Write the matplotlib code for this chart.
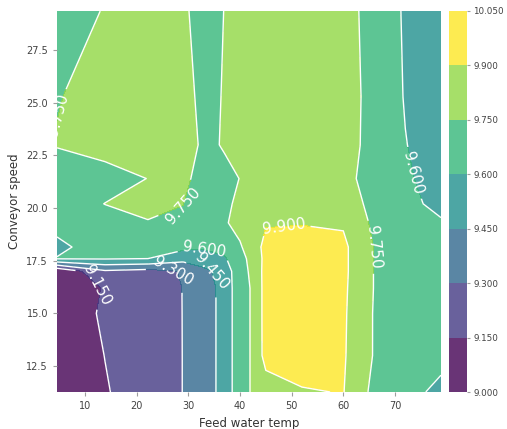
import numpy as np
import matplotlib
matplotlib.use("Agg")
import matplotlib.pyplot as plt
from matplotlib.colors import Normalize

# Grid of the two features
feed_water_temp = [4.6, 13.9, 22.2, 29.0, 33.0, 37.0, 40.0, 42.5, 45.0, 52.0, 60.0, 66.0, 72.0, 78.9]
conveyor_speed = [11.27, 13.0, 15.0, 16.2, 17.0, 17.6, 18.15, 19.3, 20.2, 21.4, 23.0, 25.3, 29.35]

# Partial dependence values: one row per conveyor speed (bottom to top),
# one column per feed water temp (left to right)
pdp_values = [
    [9.05, 9.14, 9.22, 9.302, 9.40, 9.485, 9.715, 9.76, 9.816, 9.889, 9.905, 9.71, 9.64, 9.57],
    [9.05, 9.152, 9.22, 9.302, 9.40, 9.485, 9.715, 9.76, 9.957, 9.97, 9.915, 9.74, 9.65, 9.635],
    [9.06, 9.17, 9.23, 9.302, 9.40, 9.485, 9.715, 9.76, 9.96, 10.0, 9.92, 9.74, 9.65, 9.63],
    [9.05, 9.16, 9.24, 9.302, 9.40, 9.485, 9.715, 9.76, 9.96, 10.0, 9.925, 9.745, 9.66, 9.64],
    [9.01, 9.28, 9.25, 9.31, 9.42, 9.50, 9.715, 9.77, 9.96, 10.0, 9.93, 9.745, 9.67, 9.64],
    [9.61, 9.61, 9.60, 9.50, 9.52, 9.58, 9.72, 9.78, 9.95, 10.0, 9.93, 9.745, 9.68, 9.64],
    [9.55, 9.71, 9.70, 9.64, 9.62, 9.66, 9.74, 9.80, 9.96, 9.99, 9.93, 9.745, 9.68, 9.64],
    [9.67, 9.70, 9.74, 9.73, 9.70, 9.74, 9.78, 9.85, 9.885, 9.89, 9.885, 9.72, 9.66, 9.615],
    [9.68, 9.752, 9.80, 9.752, 9.68, 9.72, 9.78, 9.83, 9.86, 9.88, 9.84, 9.70, 9.64, 9.56],
    [9.647, 9.70, 9.752, 9.78, 9.70, 9.72, 9.752, 9.80, 9.84, 9.86, 9.80, 9.68, 9.62, 9.54],
    [9.76, 9.80, 9.84, 9.83, 9.72, 9.76, 9.83, 9.85, 9.86, 9.87, 9.81, 9.70, 9.605, 9.52],
    [9.74, 9.82, 9.84, 9.815, 9.70, 9.76, 9.82, 9.84, 9.85, 9.86, 9.79, 9.72, 9.59, 9.52],
    [9.66, 9.76, 9.82, 9.77, 9.70, 9.752, 9.80, 9.82, 9.84, 9.85, 9.78, 9.72, 9.58, 9.52],
]

levels = [9.0, 9.15, 9.3, 9.45, 9.6, 9.75, 9.9, 10.05]
x_ticks = [10, 20, 30, 40, 50, 60, 70]
y_ticks = [12.5, 15.0, 17.5, 20.0, 22.5, 25.0, 27.5]

# Where each contour level gets its labels
label_spots = {
    9.15: [(12.5, 16.4)],
    9.3: [(27.0, 17.1)],
    9.45: [(36.0, 17.1)],
    9.6: [(33.0, 17.95), (72.5, 21.6)],
    9.75: [(5.3, 24.4), (30.5, 20.0), (66.9, 18.2)],
    9.9: [(48.5, 19.1)],
}

X, Y = np.meshgrid(feed_water_temp, conveyor_speed)
Z = np.array(pdp_values)

fig = plt.figure(figsize=(5.07, 4.29), dpi=100)
ax = fig.add_axes([0.1124, 0.0862, 0.7574, 0.8882])
cax = fig.add_axes([0.8856, 0.0862, 0.0355, 0.8882])

# band colours span the full colormap, from the lowest band to the highest
mids = [(a + b) / 2 for a, b in zip(levels[:-1], levels[1:])]
norm = Normalize(vmin=mids[0], vmax=mids[-1])

cf = ax.contourf(X, Y, Z, levels=levels, cmap="viridis", norm=norm, alpha=0.8)

# white iso-lines, one set per level so each gets its own label spots
for lev in levels:
    cs = ax.contour(X, Y, Z, levels=[lev], colors="white", linewidths=1)
    spots = label_spots.get(lev)
    if spots and len(cs.allsegs[0]) > 0:
        ax.clabel(cs, fmt="%.3f", fontsize=11, inline=True, manual=spots)

ax.set_xlim(min(feed_water_temp), max(feed_water_temp))
ax.set_ylim(min(conveyor_speed), max(conveyor_speed))
ax.set_xticks(x_ticks)
ax.set_yticks(y_ticks)
ax.set_xticklabels([str(t) for t in x_ticks])
ax.set_yticklabels([f"{t:.1f}" for t in y_ticks])
for s in ax.spines.values():
    s.set_visible(False)
ax.tick_params(labelsize=7, labelcolor="#424242", colors="#9E9E9E", length=3)
ax.set_xlabel("Feed water temp", fontsize=8.5, color="#333333")
ax.set_ylabel("Conveyor speed", fontsize=8.5, color="#333333")

cb = fig.colorbar(cf, cax=cax)
cb.set_ticks(levels)
cb.set_ticklabels([f"{v:.3f}" for v in levels])
cb.outline.set_visible(False)
cax.tick_params(labelsize=6.3, labelcolor="#424242", colors="#9E9E9E", length=2.5, pad=2)

fig.savefig("out.png", dpi=100)
